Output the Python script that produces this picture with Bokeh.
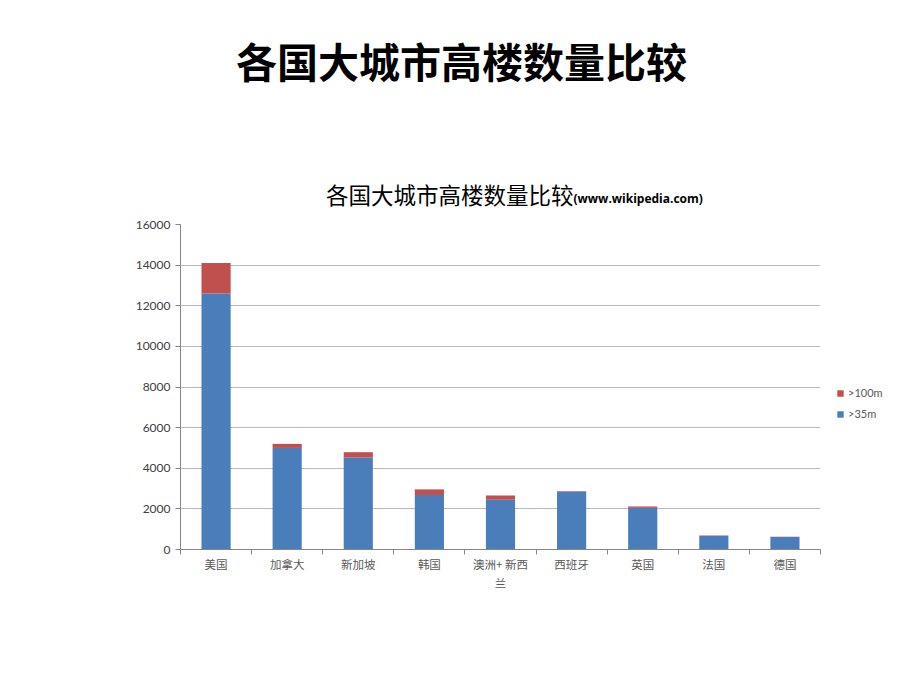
from bokeh.plotting import figure
from bokeh.layouts import column
from bokeh.models import FixedTicker, Label, Legend, LegendItem, ColumnDataSource, Range1d
from bokeh.embed import file_html
from bokeh.resources import INLINE

# ---- data ----
countries = ["美国", "加拿大", "新加坡", "韩国", "澳洲+ 新西\n兰", "西班牙", "英国", "法国", "德国"]
over35 = [12600, 5000, 4530, 2680, 2450, 2840, 2050, 670, 610]
over100 = [1500, 200, 260, 280, 210, 30, 70, 20, 15]
y_ticks = [0, 2000, 4000, 6000, 8000, 10000, 12000, 14000, 16000]
series_names = [">35m", ">100m"]
page_title = "各国大城市高楼数量比较"
chart_title = "各国大城市高楼数量比较"
chart_source = "(www.wikipedia.com)"

TOP_H = 210
FL, FW, BR = 180, 640, 96
n = len(countries)
centers = [i + 0.5 for i in range(n)]
bounds = [float(i) for i in range(n + 1)]

# ---------- title strip (frame aligned with chart frame; data units = page px) ----------
t = figure(frame_width=FW, frame_height=TOP_H, output_backend="svg", toolbar_location=None,
           x_range=Range1d(FL, FL + FW), y_range=Range1d(TOP_H, 0),
           x_axis_location=None, y_axis_location=None,
           min_border_left=FL, min_border_right=BR, min_border_top=0, min_border_bottom=0)
t.outline_line_color = None
t.xgrid.grid_line_color = None
t.ygrid.grid_line_color = None
t.add_layout(Label(x=461, y=59, text=page_title, text_align="center", text_baseline="middle",
                   text_font="Noto Sans CJK SC", text_font_style="bold",
                   text_font_size="41px", text_color="black"))
t.add_layout(Label(x=573, y=193, text=chart_title, text_align="right", text_baseline="middle",
                   text_font="Noto Sans CJK SC", text_font_size="22.5px", text_color="black"))
t.add_layout(Label(x=573, y=198, text=chart_source, text_align="left", text_baseline="middle",
                   text_font="Open Sans", text_font_style="bold", text_font_size="12px",
                   text_color="black"))

# ---------- chart ----------
src = ColumnDataSource(dict(x=centers, a=over35, b=over100))

p = figure(frame_width=FW, frame_height=325, output_backend="svg", toolbar_location=None,
           x_range=Range1d(0, n), y_range=Range1d(y_ticks[0], y_ticks[-1]),
           min_border_left=FL, min_border_right=BR, min_border_top=14, min_border_bottom=135)
p.outline_line_color = None

rs = p.vbar_stack(["a", "b"], x="x", width=0.41, source=src,
                  color=["#4a7ebb", "#c0504d"], line_color=None)

p.xaxis.ticker = FixedTicker(ticks=centers, minor_ticks=bounds)
p.xaxis.major_label_overrides = {c: lab for c, lab in zip(centers, countries)}
p.xaxis.major_tick_out = 0
p.xaxis.major_tick_in = 0
p.xaxis.minor_tick_out = 5
p.xaxis.minor_tick_in = 0
p.xaxis.minor_tick_line_color = "#868686"
p.xaxis.axis_line_color = "#868686"
p.xaxis.major_label_text_font = "Noto Sans CJK SC"
p.xaxis.major_label_text_font_size = "11.5px"
p.xaxis.major_label_text_color = "#595959"
p.xaxis.major_label_standoff = 1

p.yaxis.ticker = FixedTicker(ticks=y_ticks)
p.yaxis.minor_tick_out = 0
p.yaxis.minor_tick_in = 0
p.yaxis.major_tick_out = 5
p.yaxis.major_tick_in = 0
p.yaxis.major_tick_line_color = "#868686"
p.yaxis.axis_line_color = "#868686"
p.yaxis.major_label_text_font = "Lato"
p.yaxis.major_label_text_font_size = "12px"
p.yaxis.major_label_text_color = "#404040"
p.yaxis.major_label_standoff = 5

p.xgrid.grid_line_color = None
p.ygrid.grid_line_color = "#bdb6c6"
p.ygrid.grid_line_width = 1

legend = Legend(items=[LegendItem(label=series_names[1], renderers=[rs[1]]),
                       LegendItem(label=series_names[0], renderers=[rs[0]])],
                location=(16, 129), border_line_color=None, background_fill_alpha=0,
                glyph_width=8, glyph_height=8, label_text_font_size="11px",
                label_text_font="Lato", label_text_color="#595959",
                spacing=8, padding=4, label_standoff=4, margin=0)
p.add_layout(legend, "right")

layout = column(t, p, spacing=0)
open("out.html", "w").write(file_html(layout, INLINE))
